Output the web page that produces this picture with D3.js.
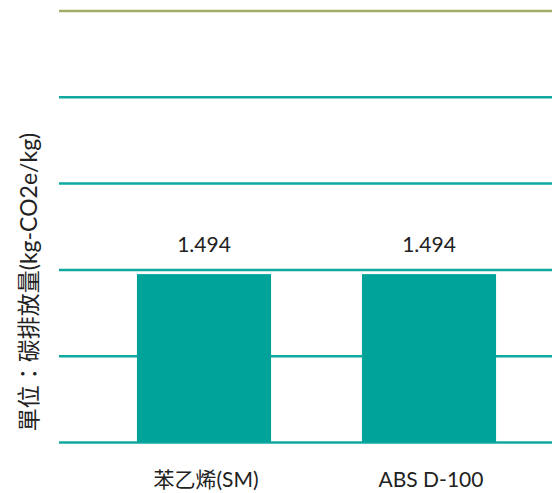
<!DOCTYPE html>
<html>
<head>
<meta charset="utf-8">
<script src="https://cdn.jsdelivr.net/npm/d3@7"></script>
<style>
  body { margin: 0; background: #fff; }
  text { font-family: "Lato", "Noto Sans CJK TC", sans-serif; fill: #222; }
</style>
</head>
<body>
<svg id="chart"></svg>
<script>
const categories = ["苯乙烯(SM)", "ABS D-100"];
const values = [1.494, 1.494];
const valueLabels = ["1.494", "1.494"];
const yLabel = "單位：碳排放量(kg-CO2e/kg)";
const yMax = 3.84;
const gridCount = 5;

const width = 552, height = 493;
const margin = { top: 10.5, bottom: 51, left: 59, right: 0 };

const svg = d3.select("#chart")
    .attr("width", width)
    .attr("height", height);

const plotH = height - margin.top - margin.bottom;

const yScale = d3.scaleLinear()
    .domain([0, yMax])
    .range([margin.top + plotH, margin.top]);

const xScale = d3.scaleBand()
    .domain(categories)
    .range([91.5, 541.5])
    .paddingInner(0.404)
    .paddingOuter(0.202);

// grid lines
const gridValues = d3.range(gridCount + 1).map(i => i * yMax / gridCount);
const yAxis = d3.axisLeft(yScale)
    .tickValues(gridValues)
    .tickSize(-(width - margin.left))
    .tickFormat("");

const gridG = svg.append("g")
    .attr("transform", `translate(${margin.left},0)`)
    .call(yAxis);
gridG.select(".domain").remove();
gridG.selectAll(".tick line")
    .attr("stroke", (d, i) => i === gridCount ? "#a3ad6a" : "#0fa89f")
    .attr("stroke-width", 2.5);

// bars
svg.append("g").selectAll("rect")
    .data(values)
    .join("rect")
    .attr("x", (d, i) => xScale(categories[i]))
    .attr("y", d => yScale(d))
    .attr("width", xScale.bandwidth())
    .attr("height", d => yScale(0) - yScale(d))
    .attr("fill", "#00a39a");

// value labels
svg.append("g").selectAll("text")
    .data(values)
    .join("text")
    .attr("x", (d, i) => xScale(categories[i]) + xScale.bandwidth() / 2)
    .attr("y", d => yScale(d) - 22)
    .attr("text-anchor", "middle")
    .attr("font-size", "21px")
    .text((d, i) => valueLabels[i]);

// category labels
svg.append("g").selectAll("text")
    .data(categories)
    .join("text")
    .attr("x", d => xScale(d) + xScale.bandwidth() / 2 + 2)
    .attr("y", 487)
    .attr("text-anchor", "middle")
    .attr("font-size", "21px")
    .text(d => d);

// y label
svg.append("text")
    .attr("transform", "translate(37,282) rotate(-90)")
    .attr("text-anchor", "middle")
    .attr("font-size", "23px")
    .text(yLabel);
</script>
</body>
</html>
